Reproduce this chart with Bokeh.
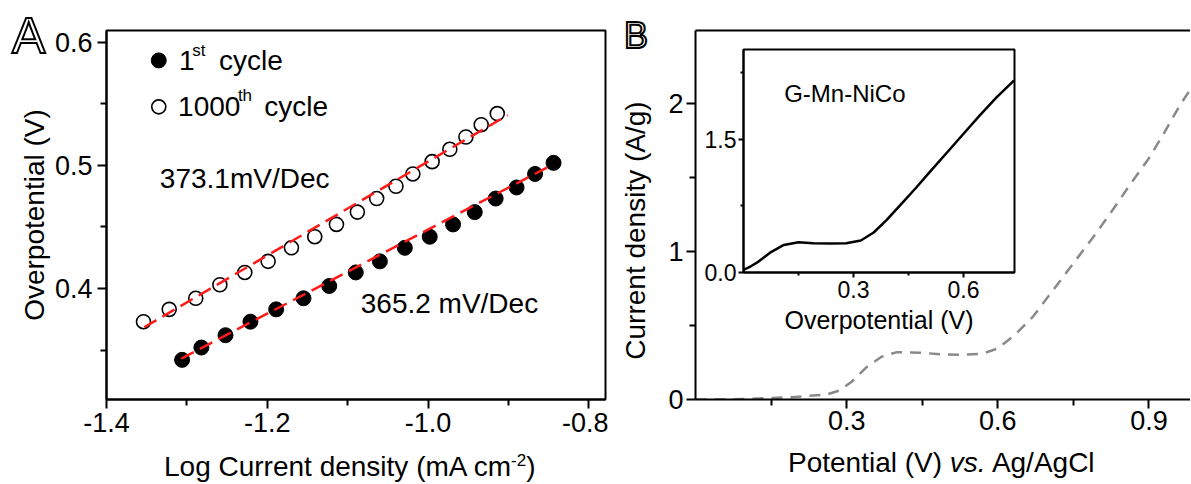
from bokeh.plotting import figure
from bokeh.layouts import row
from bokeh.models import FixedTicker, Label, LinearAxis, Range1d, CustomJSTickFormatter, Div
from bokeh.embed import file_html
from bokeh.resources import INLINE

FONT = "Liberation Sans"

# ---------------- Panel A data (Tafel plot) ----------------
log_j_1st = [-1.306, -1.282, -1.252, -1.221, -1.189, -1.155, -1.123, -1.090, -1.060,
             -1.029, -0.998, -0.969, -0.942, -0.916, -0.890, -0.867, -0.844]
eta_1st = [0.342, 0.352, 0.362, 0.373, 0.383, 0.392, 0.402, 0.413, 0.422,
           0.433, 0.442, 0.452, 0.462, 0.473, 0.482, 0.493, 0.502]
log_j_1000 = [-1.354, -1.322, -1.289, -1.259, -1.228, -1.199, -1.170, -1.141, -1.114,
              -1.088, -1.064, -1.040, -1.019, -0.995, -0.973, -0.953, -0.934, -0.914]
eta_1000 = [0.373, 0.383, 0.392, 0.403, 0.413, 0.422, 0.433, 0.442, 0.452,
            0.462, 0.473, 0.483, 0.493, 0.503, 0.513, 0.523, 0.533, 0.542]
fit_1st_x = [-1.307, -0.850]
fit_1st_y = [0.343, 0.499]
fit_1000_x = [-1.353, -0.901]
fit_1000_y = [0.3685, 0.5408]
xticks_a = [-1.4, -1.2, -1.0, -0.8]
xminor_a = [-1.3, -1.1, -0.9]
yticks_a = [0.4, 0.5, 0.6]
yminor_a = [0.35, 0.45, 0.55]
slope_labels = ["373.1mV/Dec", "365.2 mV/Dec"]

# ---------------- Panel B data (polarization curve) ----------------
potential = [0.00, 0.05, 0.11, 0.19, 0.26, 0.285, 0.31, 0.34, 0.37, 0.40, 0.45, 0.49,
             0.53, 0.57, 0.60, 0.635, 0.67, 0.71, 0.75, 0.79, 0.83, 0.86, 0.90, 0.93,
             0.96, 0.985]
current = [0.00, 0.00, 0.005, 0.016, 0.033, 0.06, 0.12, 0.22, 0.29, 0.32, 0.315, 0.305,
           0.302, 0.31, 0.345, 0.44, 0.56, 0.74, 0.92, 1.10, 1.29, 1.44, 1.63, 1.80,
           1.98, 2.11]
xticks_b = [0.3, 0.6, 0.9]
xminor_b = [0.15, 0.45, 0.75]
yticks_b = [0, 1, 2]
yminor_b = [0.5, 1.5]

# inset
overpot = [0.00, 0.02, 0.04, 0.075, 0.11, 0.15, 0.19, 0.24, 0.28, 0.32, 0.355, 0.39,
           0.43, 0.47, 0.51, 0.555, 0.60, 0.645, 0.69, 0.738]
inset_cur = [0.03, 0.07, 0.12, 0.23, 0.31, 0.34, 0.33, 0.325, 0.33, 0.36, 0.45, 0.59,
             0.77, 0.95, 1.14, 1.35, 1.56, 1.77, 1.97, 2.16]
xticks_i = [0.3, 0.6]
xminor_i = [0.15, 0.45]
yticks_i = [0.0, 1.5]
yminor_i = [0.75, 2.25]
inset_name = "G-Mn-NiCo"

RED = "#ff1a1a"


def style_axis(ax, tick_px, label_px, major_len, minor_len, tick_standoff, label_standoff):
    ax.axis_line_color = "black"
    ax.axis_line_width = 2
    ax.major_tick_line_color = "black"
    ax.minor_tick_line_color = "black"
    ax.major_tick_line_width = 2
    ax.minor_tick_line_width = 2
    ax.major_tick_in = 0
    ax.major_tick_out = major_len
    ax.minor_tick_in = 0
    ax.minor_tick_out = minor_len
    ax.major_label_text_font = FONT
    ax.major_label_text_font_size = f"{tick_px}px"
    ax.major_label_text_color = "black"
    ax.major_label_standoff = tick_standoff
    ax.axis_label_text_font = FONT
    ax.axis_label_text_font_style = "normal"
    ax.axis_label_text_font_size = f"{label_px}px"
    ax.axis_label_text_color = "black"
    ax.axis_label_standoff = label_standoff


def lab(p, x, y, text, size, align="left", style="normal", x_offset=0):
    p.add_layout(Label(x=x, y=y, text=text, x_offset=x_offset,
                       text_font=FONT, text_font_size=f"{size}px", text_font_style=style,
                       text_align=align, text_baseline="middle", text_color="black"))


def abs_div(html, left, top, w, h, css=""):
    return Div(text=f'<div style="font-family:\'{FONT}\';white-space:nowrap;{css}">{html}</div>',
               width=w, height=h,
               styles={"position": "absolute", "left": f"{left}px", "top": f"{top}px",
                       "z-index": "6", "margin": "0", "padding": "0"})


# ================= Panel A =================
pA = figure(width=608, height=483, x_range=Range1d(-1.4, -0.7794), y_range=Range1d(0.3098, 0.6095),
            output_backend="svg", toolbar_location=None, title_location=None,
            min_border_left=106, min_border_right=3, min_border_top=30, min_border_bottom=82)
pA.grid.visible = False
pA.outline_line_color = "black"
pA.outline_line_width = 2
pA.outline_line_alpha = 1
pA.background_fill_color = "white"
pA.border_fill_color = "white"

pA.xaxis.ticker = FixedTicker(ticks=xticks_a, minor_ticks=xminor_a)
pA.yaxis.ticker = FixedTicker(ticks=yticks_a, minor_ticks=yminor_a)
pA.xaxis.formatter = CustomJSTickFormatter(code="return tick.toFixed(1);")
pA.yaxis.formatter = CustomJSTickFormatter(code="return tick.toFixed(1);")
pA.yaxis.axis_label = "Overpotential (V)"
style_axis(pA.xaxis[0], 27, 28, 9, 6, 4, 2)
style_axis(pA.yaxis[0], 27, 28, 9, 6, 5, 2)

pA.scatter(log_j_1st, eta_1st, size=15, marker="circle", fill_color="black", line_color="black")
pA.scatter(log_j_1000, eta_1000, size=14, marker="circle", fill_color="white",
           line_color="black", line_width=1.6)
pA.line(fit_1st_x, fit_1st_y, line_color=RED, line_width=2.5, line_dash="14 7")
pA.line(fit_1000_x, fit_1000_y, line_color=RED, line_width=2.5, line_dash="14 7")

# legend (manual, for superscripts)
pA.scatter([-1.335], [0.5852], size=15, marker="circle", fill_color="black", line_color="black")
pA.scatter([-1.335], [0.5475], size=14, marker="circle", fill_color="white", line_color="black",
           line_width=1.6)
lab(pA, -1.3098, 0.5852, "1", 28)
lab(pA, -1.2933, 0.5935, "st", 17)
lab(pA, -1.2600, 0.5852, "cycle", 28)
lab(pA, -1.3110, 0.5475, "1000", 28)
lab(pA, -1.2366, 0.5565, "th", 17)
lab(pA, -1.2038, 0.5475, "cycle", 28)

lab(pA, -1.3337, 0.4897, slope_labels[0], 28)
lab(pA, -1.0838, 0.3881, slope_labels[1], 28)

# ================= Panel B =================
pB = figure(width=582, height=483, x_range=Range1d(0, 0.9825), y_range=Range1d(0, 2.493),
            output_backend="svg", toolbar_location=None, title_location=None,
            min_border_left=87, min_border_right=0, min_border_top=30, min_border_bottom=79)
pB.grid.visible = False
pB.outline_line_color = None
pB.background_fill_color = "white"
pB.border_fill_color = "white"
pB.xaxis.ticker = FixedTicker(ticks=xticks_b, minor_ticks=xminor_b)
pB.yaxis.ticker = FixedTicker(ticks=yticks_b, minor_ticks=yminor_b)
pB.xaxis.formatter = CustomJSTickFormatter(code="return tick.toFixed(1);")
pB.yaxis.formatter = CustomJSTickFormatter(code="return tick.toFixed(0);")
pB.yaxis.axis_label = "Current density (A/g)\u00a0\u00a0\u00a0\u00a0"
style_axis(pB.xaxis[0], 27, 28, 9, 6, 2, 0)
style_axis(pB.yaxis[0], 27, 28, 9, 6, 3, 14)

top_axis = LinearAxis(ticker=FixedTicker(ticks=[]), axis_line_width=2, axis_line_color="black",
                      major_tick_out=0, minor_tick_out=0)
pB.add_layout(top_axis, "above")

pB.line(potential, current, line_color="#8a8a8a", line_width=2.5, line_dash="11 8")

# ================= Inset =================
inset = figure(width=319, height=337, x_range=Range1d(0, 0.739), y_range=Range1d(0, 2.508),
               output_backend="svg", toolbar_location=None, title_location=None,
               min_border_left=45, min_border_right=3, min_border_top=2, min_border_bottom=84)
inset.grid.visible = False
inset.outline_line_color = "black"
inset.outline_line_width = 2
inset.outline_line_alpha = 1
inset.background_fill_color = "white"
inset.border_fill_color = None
inset.xaxis.ticker = FixedTicker(ticks=xticks_i, minor_ticks=xminor_i)
inset.yaxis.ticker = FixedTicker(ticks=yticks_i, minor_ticks=yminor_i)
inset.xaxis.formatter = CustomJSTickFormatter(code="return tick.toFixed(1);")
inset.yaxis.formatter = CustomJSTickFormatter(code="return tick.toFixed(1);")
inset.xaxis.axis_label = "Overpotential (V)"
style_axis(inset.xaxis[0], 23, 25, 5, 3, 3, 5)
style_axis(inset.yaxis[0], 23, 25, 5, 3, 2, 0)
inset.line(overpot, inset_cur, line_color="black", line_width=2.5)
lab(inset, 0.111, 2.01, inset_name, 24)
inset.styles = {"position": "absolute", "left": "698px", "top": "19px", "z-index": "5"}

# ================= Panel letters and x-axis titles =================
letter_css = "color:white;-webkit-text-stroke:2px black;line-height:{lh}px;font-size:{fs}px;"
div_A = abs_div("A", 12, 11, 50, 54, letter_css.format(lh=50, fs=50))
div_B = abs_div("B", 624, 18, 40, 40, letter_css.format(lh=36, fs=36))
div_xlab_a = abs_div("Log Current density (mA cm<sup style=\"font-size:17px;\">-2</sup>)",
                     164, 445, 400, 36, "font-size:28px;line-height:32px;color:black;")
div_xlab_b = abs_div("Potential (V) <i>vs.</i> Ag/AgCl", 788, 447, 340, 34,
                     "font-size:28px;line-height:32px;color:black;")

layout = row(pA, pB, inset, div_A, div_B, div_xlab_a, div_xlab_b)
open("out.html", "w").write(file_html(layout, INLINE))
